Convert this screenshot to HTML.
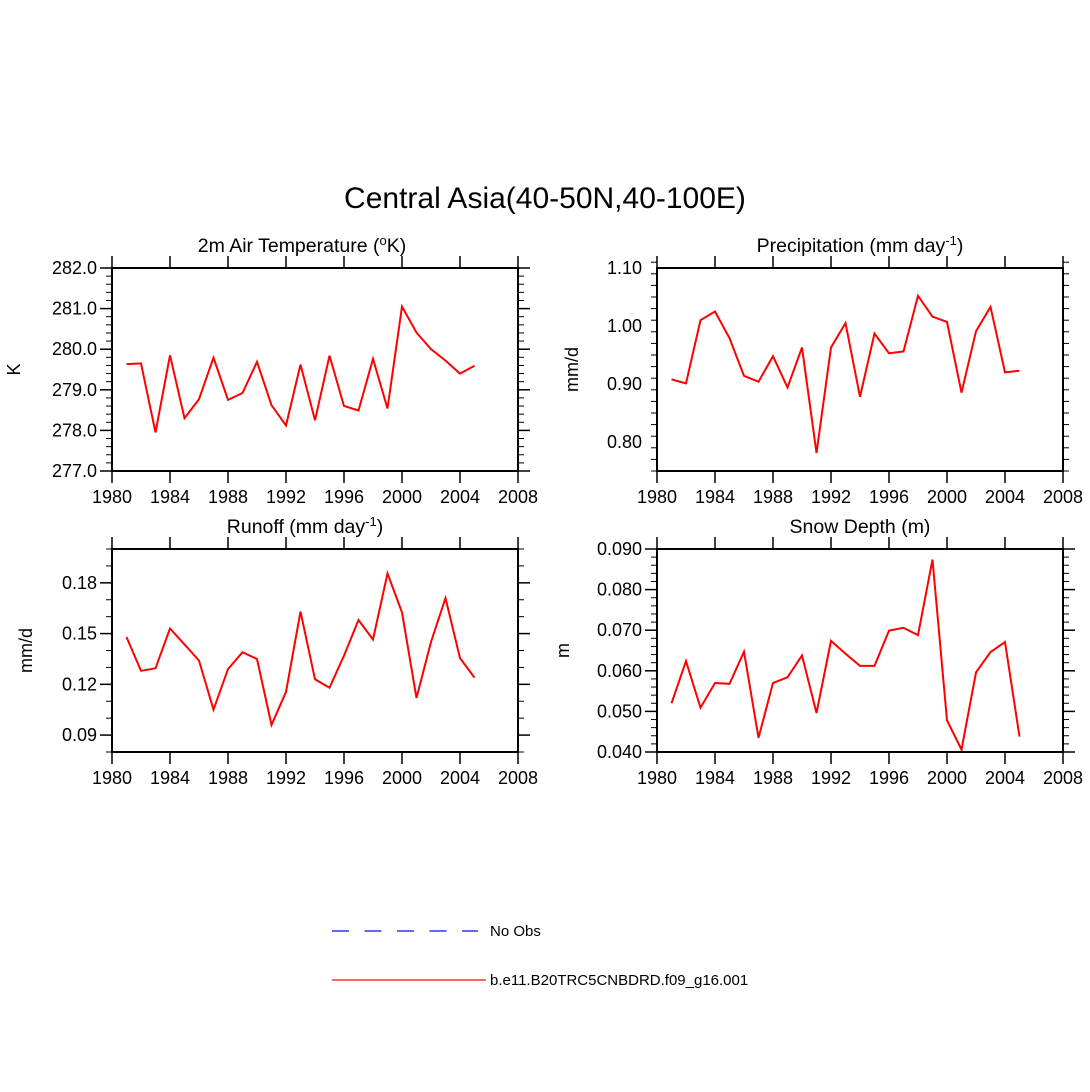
<!DOCTYPE html>
<html><head><meta charset="utf-8"><style>
body{margin:0;background:#fff}
svg{display:block;font-family:"Liberation Sans",Arial,sans-serif}
</style></head><body>
<svg id="chart" width="1090" height="1092" viewBox="0 0 1090 1092" xmlns="http://www.w3.org/2000/svg">
<text x="545" y="208" font-size="30" text-anchor="middle">Central Asia(40-50N,40-100E)</text>
<g id="panels"></g>
<g>
<line x1="332" y1="931" x2="478" y2="931" stroke="#6666ff" stroke-width="2" stroke-dasharray="17,15.5"/>
<text x="490" y="936" font-size="15">No Obs</text>
<line x1="332" y1="980" x2="486" y2="980" stroke="#ff6666" stroke-width="2"/>
<text x="490" y="985" font-size="15">b.e11.B20TRC5CNBDRD.f09_g16.001</text>
</g>
</svg>
<script>
const years = [1981,1982,1983,1984,1985,1986,1987,1988,1989,1990,1991,1992,1993,1994,1995,1996,1997,1998,1999,2000,2001,2002,2003,2004,2005];
const xTicks = [1980,1984,1988,1992,1996,2000,2004,2008];
const tasValues = [279.63,279.65,277.95,279.85,278.30,278.77,279.79,278.75,278.92,279.69,278.62,278.12,279.62,278.25,279.84,278.60,278.49,279.76,278.54,281.05,280.41,280.00,279.72,279.40,279.59];
const precValues = [0.908,0.901,1.010,1.025,0.979,0.914,0.904,0.948,0.894,0.963,0.781,0.963,1.005,0.878,0.987,0.953,0.956,1.052,1.016,1.007,0.885,0.991,1.033,0.920,0.923];
const runoffValues = [0.148,0.128,0.1295,0.153,0.1436,0.134,0.105,0.129,0.139,0.135,0.096,0.1155,0.163,0.123,0.118,0.137,0.158,0.1465,0.1856,0.1625,0.112,0.145,0.171,0.1355,0.124];
const snowValues = [0.0520,0.0624,0.0509,0.0570,0.0568,0.0647,0.0435,0.0570,0.0584,0.0638,0.0496,0.0674,0.0642,0.0612,0.0612,0.0699,0.0706,0.0688,0.0874,0.0478,0.0406,0.0596,0.0646,0.0671,0.0438];
const tasTicks = [277,278,279,280,281,282];
const precTicks = [0.8,0.9,1.0,1.1];
const runoffTicks = [0.09,0.12,0.15,0.18];
const snowTicks = [0.04,0.05,0.06,0.07,0.08,0.09];

const NS="http://www.w3.org/2000/svg";
const root=document.getElementById('panels');
function mk(tag,attrs,parent){const e=document.createElementNS(NS,tag);for(const k in attrs)e.setAttribute(k,attrs[k]);parent.appendChild(e);return e;}

const panels=[
 {id:'tas',x0:112,y0:268,tx:302,title:'2m Air Temperature (',sup:'o',tail:'K)',ylab:'K',yl:14,vals:tasValues,ticks:tasTicks,ymin:277,ymax:282,minor:0.2,dec:1},
 {id:'prec',x0:657,y0:268,tx:860,title:'Precipitation (mm day',sup:'-1',tail:')',ylab:'mm/d',yl:572,vals:precValues,ticks:precTicks,ymin:0.75,ymax:1.10,minor:0.02,dec:2},
 {id:'runoff',x0:112,y0:549,tx:305,title:'Runoff (mm day',sup:'-1',tail:')',ylab:'mm/d',yl:26,vals:runoffValues,ticks:runoffTicks,ymin:0.08,ymax:0.20,minor:0.01,dec:2},
 {id:'snow',x0:657,y0:549,tx:860,title:'Snow Depth (m)',sup:'',tail:'',ylab:'m',yl:563,vals:snowValues,ticks:snowTicks,ymin:0.04,ymax:0.09,minor:0.002,dec:3}
];
const W=406,H=203;
panels.forEach(p=>{
 const g=mk('g',{},root);
 
 
 const xs=v=>p.x0+(v-1980)/28*W;
 const ys=v=>p.y0+H-(v-p.ymin)/(p.ymax-p.ymin)*H;
 const t=mk('text',{x:p.tx,y:p.y0-16,'font-size':19.5,'text-anchor':'middle'},g);
 
 
 t.appendChild(document.createTextNode(p.title));
 if(p.sup){const s=mk('tspan',{dy:-7,'font-size':13},t);s.textContent=p.sup;const r=mk('tspan',{dy:7},t);r.textContent=p.tail;}
 const yt=mk('text',{x:p.yl,y:p.y0+H/2,'font-size':18,'text-anchor':'middle',transform:`rotate(-90 ${p.yl} ${p.y0+H/2})`,dy:6},g);
 
 
 yt.textContent=p.ylab;
 const tk=mk('g',{stroke:'#000','stroke-width':1.5},g);
 
 
 xTicks.forEach(v=>{
  const x=xs(v);
  mk('line',{x1:x,y1:p.y0,x2:x,y2:p.y0-12},tk);
  mk('line',{x1:x,y1:p.y0+H,x2:x,y2:p.y0+H+12},tk);
  const l=mk('text',{x:x,y:p.y0+H+32,'font-size':18,'text-anchor':'middle',stroke:'none'},g);
  
  
  l.textContent=v;
 });
 const n=Math.round((p.ymax-p.ymin)/p.minor);
 for(let i=0;i<=n;i++){
  const v=p.ymin+i*p.minor, y=ys(v);
  const major=p.ticks.some(tv=>Math.abs(tv-v)<p.minor/10);
  const L=major?12:6;
  mk('line',{x1:p.x0,y1:y,x2:p.x0-L,y2:y,'stroke-width':major?1.5:1},tk);
  mk('line',{x1:p.x0+W,y1:y,x2:p.x0+W+L,y2:y,'stroke-width':major?1.5:1},tk);
 }
 p.ticks.forEach(v=>{
  const l=mk('text',{x:p.x0-15,y:ys(v)+6,'font-size':18,'text-anchor':'end'},g);
  
  
  l.textContent=v.toFixed(p.dec);
 });
 const pts=years.map((yr,i)=>xs(yr).toFixed(1)+','+ys(p.vals[i]).toFixed(1)).join(' ');
 const pl=mk('polyline',{points:pts,fill:'none',stroke:'#ff0000','stroke-width':2,'stroke-linejoin':'miter'},g);
 
 
 const fr=mk('rect',{x:p.x0,y:p.y0,width:W,height:H,fill:'none',stroke:'#000','stroke-width':2},g);
 
 
});
</script>
</body></html>
